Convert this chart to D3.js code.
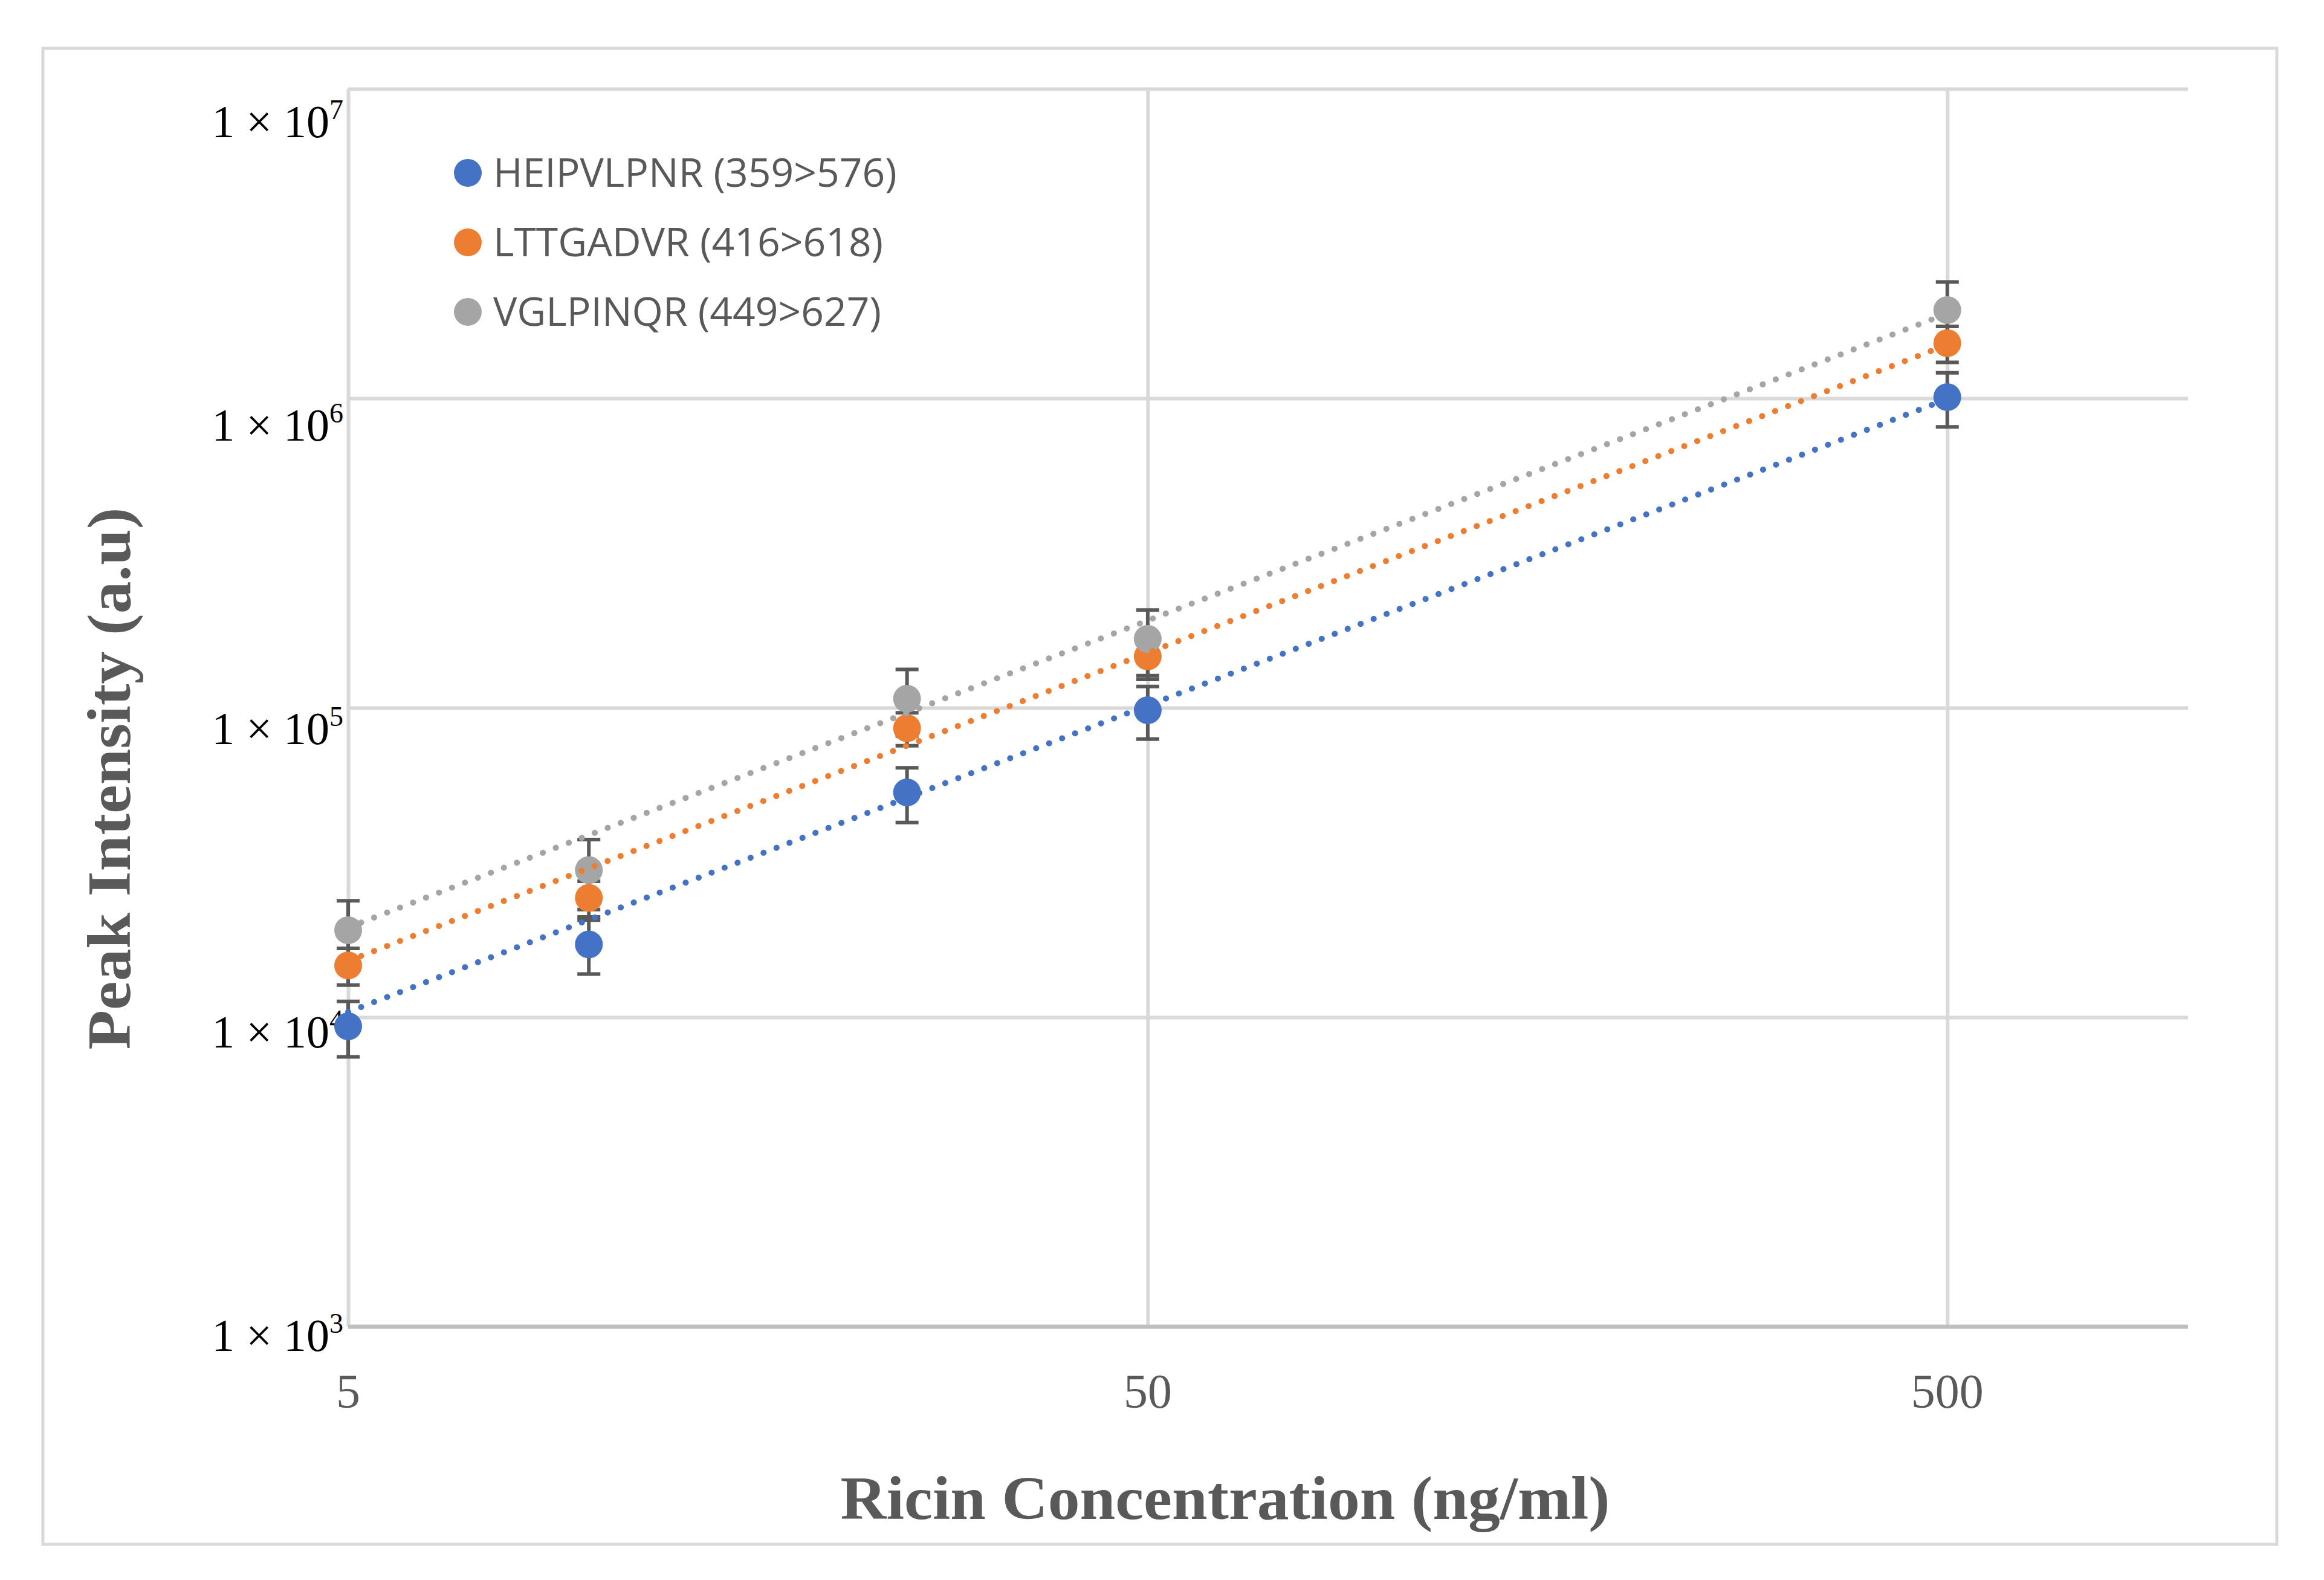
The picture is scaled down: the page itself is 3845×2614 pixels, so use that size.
<!DOCTYPE html>
<html>
<head>
<meta charset="utf-8">
<script src="https://cdn.jsdelivr.net/npm/d3@7"></script>
<style>
  body { margin: 0; background: #fff; }
  svg { display: block; }
</style>
</head>
<body>
<script>
const width = 3845;
const height = 2614;

// concentrations (ng/ml)
const conc = [5, 10, 25, 50, 500];

const seriesNames = ["HEIPVLPNR (359>576)", "LTTGADVR (416>618)", "VGLPINQR (449>627)"];
const seriesColors = ["#4472C4", "#ED7D31", "#A5A5A5"];

// peak intensities
const heipvlpnr = [9350, 17200, 53300, 98200, 1009000];
const lttgadvr = [14700, 24300, 85900, 146600, 1507000];
const vglpinqr = [19100, 29900, 107000, 167000, 1928000];

// error bar half widths
const heipvlpnrErr = [1900, 3400, 10700, 19000, 200000];
const lttgadvrErr = [2000, 3200, 10500, 23000, 200000];
const vglpinqrErr = [4700, 7600, 26000, 40000, 450000];

// power trendlines, value at first and last concentration
const trendConc = [5, 500];
const heipvlpnrTrend = [10400, 995000];
const lttgadvrTrend = [15200, 1490000];
const vglpinqrTrend = [19500, 1880000];

const xTicks = [5, 50, 500];
const yTicks = [1e3, 1e4, 1e5, 1e6, 1e7];

const values = [heipvlpnr, lttgadvr, vglpinqr];
const errs = [heipvlpnrErr, lttgadvrErr, vglpinqrErr];
const trends = [heipvlpnrTrend, lttgadvrTrend, vglpinqrTrend];

const plotLeft = 576, plotRight = 3620, plotTop = 147, plotBottom = 2195;

const svg = d3.select("body").append("svg")
    .attr("width", width)
    .attr("height", height);

const xScale = d3.scaleLog().domain([5, 1000]).range([plotLeft, plotRight]);
const yScale = d3.scaleLog().domain([1e3, 1e7]).range([plotBottom, plotTop]);

// outer frame
svg.append("rect")
    .attr("x", 71).attr("y", 80)
    .attr("width", 3767 - 71).attr("height", 2555 - 80)
    .attr("fill", "#fff")
    .attr("stroke", "#d9d9d9")
    .attr("stroke-width", 5);

// horizontal gridlines
svg.append("g")
    .attr("transform", `translate(${plotLeft},0)`)
    .call(d3.axisLeft(yScale).tickValues(yTicks.slice(1)).tickSize(-(plotRight - plotLeft)).tickFormat(""))
    .call(g => g.select(".domain").remove())
    .selectAll(".tick line")
    .attr("stroke", "#d9d9d9")
    .attr("stroke-width", 6);

// vertical gridlines
svg.append("g")
    .attr("transform", `translate(0,${plotBottom})`)
    .call(d3.axisBottom(xScale).tickValues(xTicks).tickSize(-(plotBottom - plotTop)).tickFormat(""))
    .call(g => g.select(".domain").remove())
    .selectAll(".tick line")
    .attr("stroke", "#d9d9d9")
    .attr("stroke-width", 6);

// bottom axis line
svg.append("line")
    .attr("x1", plotLeft).attr("x2", plotRight)
    .attr("y1", plotBottom).attr("y2", plotBottom)
    .attr("stroke", "#bfbfbf")
    .attr("stroke-width", 7);

// y tick labels (sit a bit below their gridlines, as in the original)
const yLab = svg.append("g")
    .selectAll("text")
    .data(yTicks)
    .join("text")
    .attr("x", 568)
    .attr("y", d => yScale(d) + 14 + 10 * (Math.log10(d) - 3) + 26)
    .attr("text-anchor", "end")
    .attr("font-family", "Liberation Serif, Times New Roman, serif")
    .attr("font-size", 76)
    .attr("fill", "#000");
yLab.append("tspan").text("1 × 10");
yLab.append("tspan")
    .attr("font-size", 46)
    .attr("dy", -30)
    .text(d => Math.round(Math.log10(d)));

// x tick labels
svg.append("g")
    .selectAll("text")
    .data(xTicks)
    .join("text")
    .attr("x", d => xScale(d))
    .attr("y", 2329)
    .attr("text-anchor", "middle")
    .attr("font-family", "Liberation Serif, Times New Roman, serif")
    .attr("font-size", 80)
    .attr("fill", "#595959")
    .text(d => d);

// axis titles
svg.append("text")
    .attr("x", 2027)
    .attr("y", 2513)
    .attr("text-anchor", "middle")
    .attr("font-family", "Liberation Serif, Times New Roman, serif")
    .attr("font-weight", "bold")
    .attr("font-size", 102)
    .attr("fill", "#595959")
    .attr("textLength", 1273)
    .attr("lengthAdjust", "spacingAndGlyphs")
    .text("Ricin Concentration (ng/ml)");

svg.append("text")
    .attr("transform", "translate(215,1288) rotate(-90)")
    .attr("text-anchor", "middle")
    .attr("font-family", "Liberation Serif, Times New Roman, serif")
    .attr("font-weight", "bold")
    .attr("font-size", 102)
    .attr("fill", "#595959")
    .attr("textLength", 897)
    .attr("lengthAdjust", "spacingAndGlyphs")
    .text("Peak Intensity (a.u)");

// error bars
const capHalf = 19;
values.forEach((vals, s) => {
    const g = svg.append("g")
        .attr("stroke", "#595959")
        .attr("stroke-width", 6);
    vals.forEach((v, i) => {
        const x = xScale(conc[i]);
        const y1 = yScale(v + errs[s][i]);
        const y2 = yScale(v - errs[s][i]);
        g.append("line").attr("x1", x).attr("x2", x).attr("y1", y1).attr("y2", y2);
        g.append("line").attr("x1", x - capHalf).attr("x2", x + capHalf).attr("y1", y1).attr("y2", y1);
        g.append("line").attr("x1", x - capHalf).attr("x2", x + capHalf).attr("y1", y2).attr("y2", y2);
    });
});

// markers
values.forEach((vals, s) => {
    svg.append("g")
        .selectAll("circle")
        .data(vals)
        .join("circle")
        .attr("cx", (d, i) => xScale(conc[i]))
        .attr("cy", d => yScale(d))
        .attr("r", 23)
        .attr("fill", seriesColors[s]);
});

// dotted trendlines
const line = d3.line()
    .x(d => xScale(d.x))
    .y(d => yScale(d.y));

trends.forEach((t, s) => {
    svg.append("path")
        .datum(t.map((y, i) => ({ x: trendConc[i], y })))
        .attr("d", line)
        .attr("fill", "none")
        .attr("stroke", seriesColors[s])
        .attr("stroke-width", 10)
        .attr("stroke-linecap", "round")
        .attr("stroke-dasharray", "0.1 22.9");
});

// legend
const legend = svg.append("g")
    .selectAll("g")
    .data(seriesNames)
    .join("g")
    .attr("transform", (d, i) => `translate(774,${286 + i * 115})`);

legend.append("circle")
    .attr("r", 23)
    .attr("fill", (d, i) => seriesColors[i]);

legend.append("text")
    .attr("x", 42)
    .attr("y", 23)
    .attr("font-family", "Open Sans, sans-serif")
    .attr("font-size", 66)
    .attr("fill", "#595959")
    .text(d => d);
</script>
</body>
</html>
